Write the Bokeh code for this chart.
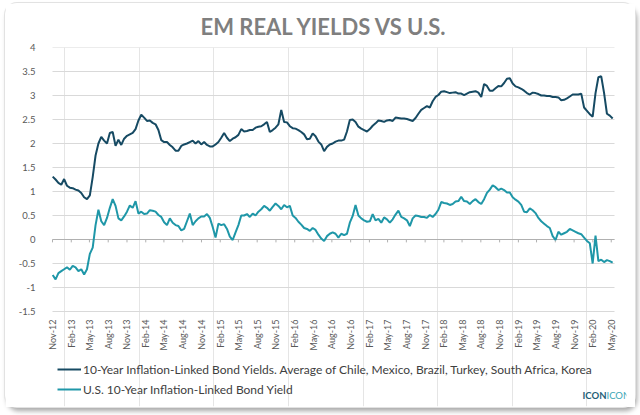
import math
import pandas as pd
from bokeh.plotting import figure
from bokeh.models import FixedTicker, Legend, LegendItem, Label
from bokeh.embed import file_html
from bokeh.resources import INLINE

# ---------------- data (bi-weekly) ----------------
start_date = "2012-11-02"
em_yield = [
    1.31, 1.25, 1.18, 1.14, 1.26, 1.12, 1.08, 1.07, 1.04, 1.02,
    0.97, 0.88, 0.84, 0.92, 1.30, 1.75, 2.00, 2.14, 2.06, 2.00,
    2.22, 2.24, 1.95, 2.08, 1.97, 2.10, 2.16, 2.19, 2.22, 2.30,
    2.48, 2.60, 2.54, 2.47, 2.48, 2.43, 2.40, 2.28, 2.07, 2.03,
    2.03, 1.97, 1.92, 1.85, 1.85, 1.95, 1.98, 2.00, 2.03, 2.06,
    2.00, 2.05, 1.98, 2.03, 1.97, 1.94, 1.94, 1.98, 2.03, 2.12,
    2.22, 2.12, 2.05, 2.10, 2.13, 2.18, 2.30, 2.25, 2.26, 2.28,
    2.28, 2.33, 2.35, 2.36, 2.40, 2.45, 2.24, 2.28, 2.33, 2.40,
    2.70, 2.45, 2.44, 2.36, 2.32, 2.31, 2.28, 2.24, 2.19, 2.09,
    2.10, 2.21, 2.15, 2.04, 1.98, 1.84, 1.93, 1.98, 2.00, 2.04,
    2.06, 2.06, 2.08, 2.25, 2.49, 2.50, 2.45, 2.35, 2.31, 2.28,
    2.25, 2.30, 2.37, 2.42, 2.48, 2.47, 2.45, 2.48, 2.49, 2.47,
    2.54, 2.53, 2.52, 2.52, 2.51, 2.49, 2.47, 2.53, 2.62, 2.70,
    2.74, 2.78, 2.75, 2.88, 2.97, 3.01, 3.08, 3.09, 3.07, 3.05,
    3.06, 3.07, 3.04, 3.04, 3.01, 3.04, 3.07, 3.08, 3.09, 3.06,
    2.97, 3.24, 3.20, 3.10, 3.10, 3.15, 3.20, 3.19, 3.26, 3.35,
    3.36, 3.25, 3.19, 3.17, 3.14, 3.10, 3.05, 3.02, 3.06, 3.05,
    3.03, 3.00, 3.00, 2.99, 2.99, 2.97, 2.97, 2.96, 2.90, 2.91,
    2.94, 2.98, 3.02, 3.02, 3.02, 3.04, 2.75, 2.68, 2.61, 2.56,
    3.05, 3.38, 3.40, 3.05, 2.62, 2.58, 2.52,
]
us_yield = [
    -0.74, -0.83, -0.70, -0.66, -0.62, -0.58, -0.63, -0.55, -0.58, -0.66,
    -0.62, -0.73, -0.62, -0.30, -0.17, 0.30, 0.62, 0.38, 0.30, 0.45,
    0.66, 0.84, 0.70, 0.44, 0.40, 0.48, 0.58, 0.71, 0.66, 0.80,
    0.54, 0.58, 0.53, 0.54, 0.61, 0.60, 0.58, 0.51, 0.47, 0.36,
    0.30, 0.44, 0.35, 0.30, 0.28, 0.19, 0.22, 0.38, 0.54, 0.30,
    0.38, 0.44, 0.48, 0.48, 0.53, 0.45, 0.26, 0.04, 0.33, 0.30,
    0.32, 0.22, 0.06, -0.01, 0.15, 0.30, 0.50, 0.50, 0.53, 0.47,
    0.54, 0.50, 0.58, 0.63, 0.70, 0.66, 0.60, 0.68, 0.75, 0.70,
    0.63, 0.72, 0.67, 0.70, 0.50, 0.45, 0.37, 0.31, 0.24, 0.22,
    0.18, 0.24, 0.20, 0.10, 0.02, -0.03, 0.07, 0.12, 0.15, 0.12,
    0.04, 0.12, 0.09, 0.12, 0.35, 0.49, 0.72, 0.50, 0.44, 0.40,
    0.37, 0.38, 0.53, 0.40, 0.43, 0.35, 0.46, 0.42, 0.35, 0.42,
    0.52, 0.60, 0.47, 0.44, 0.40, 0.28, 0.44, 0.50, 0.49, 0.47,
    0.47, 0.45, 0.51, 0.47, 0.53, 0.62, 0.78, 0.76, 0.75, 0.72,
    0.74, 0.79, 0.80, 0.89, 0.80, 0.79, 0.74, 0.80, 0.84, 0.78,
    0.74, 0.84, 0.97, 1.04, 1.13, 1.09, 1.03, 1.06, 1.03, 0.98,
    0.98, 0.88, 0.83, 0.79, 0.72, 0.58, 0.57, 0.65, 0.61, 0.55,
    0.45, 0.38, 0.33, 0.28, 0.24, 0.07, -0.01, 0.16, 0.10, 0.13,
    0.16, 0.22, 0.19, 0.16, 0.13, 0.11, 0.04, -0.03, -0.08, -0.50,
    0.08, -0.45, -0.42, -0.47, -0.43, -0.45, -0.48,
]
x_tick_labels = [
    "Nov-12", "Feb-13", "May-13", "Aug-13", "Nov-13", "Feb-14", "May-14", "Aug-14",
    "Nov-14", "Feb-15", "May-15", "Aug-15", "Nov-15", "Feb-16", "May-16", "Aug-16",
    "Nov-16", "Feb-17", "May-17", "Aug-17", "Nov-17", "Feb-18", "May-18", "Aug-18",
    "Nov-18", "Feb-19", "May-19", "Aug-19", "Nov-19", "Feb-20", "May-20",
]
y_ticks = [-1.5, -1, -0.5, 0, 0.5, 1, 1.5, 2, 2.5, 3, 3.5, 4]
y_tick_labels = ["-1.5", "-1", "-0.5", "0", "0.5", "1", "1.5", "2", "2.5", "3", "3.5", "4"]
axis_start = pd.Timestamp("2012-11-01")
axis_end = pd.Timestamp("2020-05-17")
em_name = "10-Year Inflation-Linked Bond Yields. Average of Chile, Mexico, Brazil, Turkey, South Africa, Korea"
us_name = "U.S. 10-Year Inflation-Linked Bond Yield"
title_text = "EM REAL YIELDS VS U.S."
logo_parts = ["ICON", "ICON"]

dates = pd.date_range(start_date, periods=len(em_yield), freq="14D")
x_tick_dates = pd.date_range(axis_start, periods=len(x_tick_labels), freq="3MS")

EM_COLOR = "#164a63"
US_COLOR = "#1f97a8"
FONT = "Lato"

# ---------------- layout ----------------
# chart area: 562 px wide for axis_start..axis_end, 264 px tall for -1.5..4.
# The frame is padded left/right and below so that edge labels and the legend fit inside it.
CHART_W, CHART_H = 562, 264
PAD_L, PAD_R = 10, 12
FRAME_H = 359
days_per_px = (axis_end - axis_start).days / CHART_W
px_per_unit = CHART_H / (y_ticks[-1] - y_ticks[0])
x_lo = axis_start - pd.Timedelta(days=PAD_L * days_per_px)
x_hi = axis_end + pd.Timedelta(days=PAD_R * days_per_px)
y_lo = y_ticks[-1] - FRAME_H / px_per_unit

p = figure(
    frame_width=CHART_W + PAD_L + PAD_R, frame_height=FRAME_H,
    output_backend="svg", toolbar_location=None,
    x_axis_type="datetime", x_axis_location=None,
    x_range=(x_lo, x_hi), y_range=(y_lo, y_ticks[-1]),
    min_border_left=37, min_border_right=9, min_border_top=42, min_border_bottom=1,
)
p.outline_line_color = None
p.background_fill_color = "white"
p.border_fill_color = "white"
p.styles = {"margin-left": "5px", "margin-top": "3px", "border-radius": "12px",
            "box-shadow": "0 0 0 1px #e2e2e2, 2px 4px 5px rgba(0,0,0,0.35)"}

p.title.text = title_text
p.title.align = "left"
p.title.offset = 158
p.title.standoff = 15
p.title.text_font = FONT
p.title.text_font_size = "22px"
p.title.text_font_style = "bold"
p.title.text_color = "#7f7f7f"

p.ygrid.visible = False
p.yaxis.ticker = FixedTicker(ticks=y_ticks)
p.yaxis.major_label_overrides = dict(zip(y_ticks, y_tick_labels))
p.yaxis.axis_line_color = None
p.yaxis.major_tick_line_color = None
p.yaxis.minor_tick_line_color = None
p.yaxis.major_label_standoff = 1
p.yaxis.major_label_text_font = FONT
p.yaxis.major_label_text_font_size = "9.5px"
p.yaxis.major_label_text_color = "#595959"

# horizontal gridlines over the chart's date span only
n = len(y_ticks)
p.segment(x0=[axis_start] * n, y0=y_ticks, x1=[axis_end] * n, y1=y_ticks,
          line_color="#d9d9d9", line_width=1)
# zero line with small tick marks (the date axis crosses at 0)
p.segment(x0=[axis_start], y0=[0], x1=[axis_end], y1=[0], line_color="#b0b0b0", line_width=1)
p.segment(x0=x_tick_dates, y0=0, x1=x_tick_dates, y1=-0.06, line_color="#b0b0b0", line_width=1)

# date labels, vertical, hanging below the lowest gridline
p.text(x=x_tick_dates, y=y_ticks[0], text=x_tick_labels, angle=math.pi / 2,
       text_align="right", text_baseline="middle", y_offset=8,
       text_font_size="9px", text_color="#595959", text_font={"value": FONT})

r_em = p.line(dates, em_yield, line_color=EM_COLOR, line_width=2)
r_us = p.line(dates, us_yield, line_color=US_COLOR, line_width=2)

legend = Legend(
    items=[LegendItem(label=em_name, renderers=[r_em]),
           LegendItem(label=us_name, renderers=[r_us])],
    location=(15, 7), orientation="vertical",
    glyph_width=24, glyph_height=20, label_height=20, spacing=0, padding=0, margin=0,
    label_standoff=2, border_line_color=None, background_fill_alpha=0,
    label_text_font=FONT, label_text_font_size="12px", label_text_color="#404040",
)
p.add_layout(legend)

p.add_layout(Label(x=564, y=11, x_units="screen", y_units="screen", text=logo_parts[0],
                   text_align="right", text_baseline="middle", text_font=FONT,
                   text_font_size="9.5px", text_font_style="bold", text_color="#1f5f78"))
p.add_layout(Label(x=564, y=11, x_units="screen", y_units="screen", text=logo_parts[1],
                   text_align="left", text_baseline="middle", text_font=FONT,
                   text_font_size="9.5px", text_color="#3aa6b5"))

open("out.html", "w").write(file_html(p, INLINE))
